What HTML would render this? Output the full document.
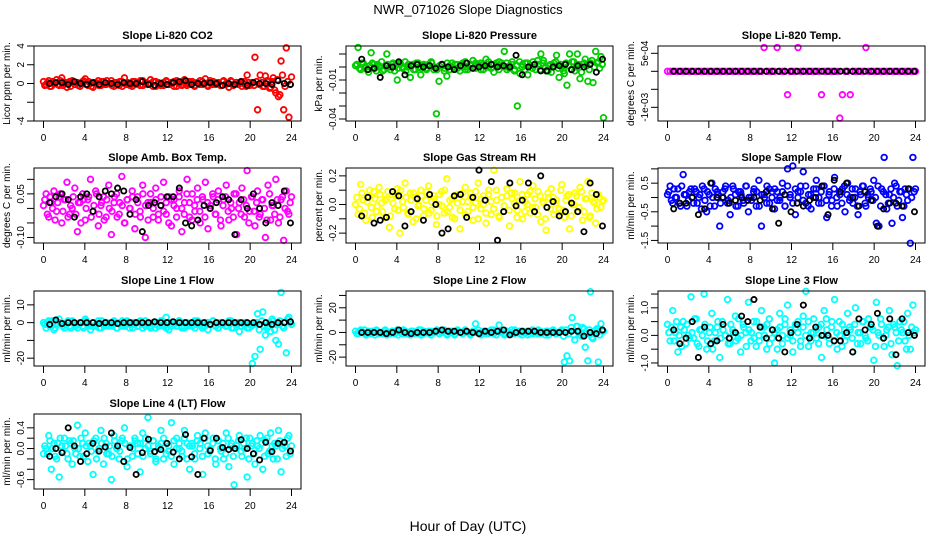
<!DOCTYPE html>
<html><head><meta charset="utf-8"><style>
html,body{margin:0;padding:0;background:#fff}
svg{display:block;font-family:"Liberation Sans",Arial,sans-serif}
</style></head><body>
<svg id="chart" width="936" height="540" viewBox="0 0 936 540" xmlns="http://www.w3.org/2000/svg">
<text x="468" y="14" text-anchor="middle" font-size="13">NWR_071026  Slope Diagnostics</text>
<text x="468" y="531" text-anchor="middle" font-size="14">Hour of Day (UTC)</text>
</svg>
<script>
const xTicks = [0,4,8,12,16,20,24];
const co2Vals = [.2,-.1,.3,-.3,.1,.4,-.2,.6,.0,-.4,.2,.3,-.1,.1,-.3,.2,.5,-.2,.0,-.4,.1,.3,-.2,.2,-.1,.0,.3,-.3,.1,-.2,.2,.6,-.1,.0,-.3,.2,.1,-.2,.3,.0,-.1,.4,-.3,.2,.0,-.2,.1,.3,-.1,.0,.2,-.3,.1,-.2,.4,.0,-.1,.2,-.2,.1,.3,-.1,.5,-.3,.0,.2,-.1,.1,-.2,.3,.0,-.4,.2,-.1,.1,.0,-.3,.2,.9,-.2,.1,2.8,-2.8,.9,-.3,.8,.2,-.4,.6,-1.0,-1.4,2.4,-2.8,3.8,-3.6,.7];
const co2Vals2 = [-.2,.1,-.3,.2,.0,-.1,.3,-.2,.1,.0,-.3,.2,.1,-.2,.0,.3,-.1,.2,-.3,.1,.0,-.2,.2,-.1,.3,.0,-.2,.1,-.1,.2,-.3,.0,.1,-.2,.2,-.1,.0,.3,-.2,.1,-.1,.0,.2,-.3,.1,.0,-.2,.2,-.1,.1,-.3,.3,.0,-.1,.1,-.2,.2,.0,-.3,.1,-.1,.2,.0,-.2,.3,-.1,.1,.0,-.2,.2,-.1,.0,.3,-.2,.1,-.1,.2,.0,-.3,.1,.0,-.2,.2,-.1,.1,-.3,.3,-.5,.2,-.7,.4,-1.2,.9,-.3,.2,-.1];
const co2Black = [.0,.1,.1,-.1,.2,.0,-.1,.1,-.1,.1,.0,-.1,.1,.0,.0,.2,-.1,-.2,.0,-.1,.1,.2,.3,-.1,.0,.0,.1,.0,-.2,.0,-.1,.2,-.2,.1,.0,.0,-.1,.3,.0,-.1];
const presVals = [.001,.015,-.002,.003,.000,-.004,.011,.002,-.003,.001,.004,-.002,.010,.000,.002,-.003,-.010,.003,-.001,.004,.000,-.008,.002,-.002,.003,-.006,.001,-.001,.002,.004,-.002,-.036,-.011,.002,-.003,-.007,.001,.003,-.001,.002,-.003,.000,.004,-.002,.001,.005,-.001,.002,.003,-.002,.006,.000,.002,-.004,.001,.004,.003,.012,-.002,.001,.004,-.002,-.030,-.005,.002,.003,-.006,.001,.004,-.002,.002,.010,.005,-.003,.001,-.004,.003,.009,-.008,.000,-.005,-.014,.010,.004,-.003,.010,-.009,.002,.006,-.011,.003,-.012,.012,.004,.008,-.039];
const presVals2 = [.002,-.001,.003,.000,-.002,.001,.003,-.001,.002,.000,-.003,.001,.002,-.002,.003,.001,-.001,.002,.000,-.003,.002,.001,-.002,.003,.000,-.001,.002,-.002,.001,.003,.000,-.002,.001,.002,-.001,.003,-.002,.000,.002,-.001,.001,.003,-.002,.000,.002,-.001,.003,.001,-.002,.002,.000,.004,-.001,.002,.003,-.002,.001,.000,.003,-.001,.002,-.003,.001,.004,.000,-.002,.003,.001,-.001,.002,.005,-.002,.003,.000,-.003,.002,.001,.004,-.001,.002,-.003,.003,.001,-.002,.004,.000,.002,-.004,.003,.001,-.002,.005,.000,.003,-.001,.002];
const presBlack = [.006,-.002,-.001,-.008,.001,.000,.004,-.006,.001,.002,.000,.001,-.001,.002,.000,-.002,.001,.003,-.001,.000,.001,.002,.000,.001,.000,.009,-.006,.000,.002,-.003,-.003,.000,.001,.002,-.002,.001,.000,.002,-.004,.006];
const tempVals = [0,0,0,0,0,0,0,0,0,0,0,0,0,0,0,0,0,0,0,0,0,0,0,0,0,0,0,0,0,0,0,0,0,0,0,0,0,6.6e-4,0,0,0,0,6.6e-4,0,0,0,-6.5e-4,0,0,0,6.6e-4,0,0,0,0,0,0,0,0,-6.5e-4,0,0,0,0,0,0,-1.3e-3,-6.5e-4,0,0,-6.5e-4,0,0,0,0,0,6.6e-4,0,0,0,0,0,0,0,0,0,0,0,0,0,0,0,0,0,0,0];
const tempVals2 = [];
const tempBlack = [0,0,0,0,0,0,0,0,0,0,0,0,0,0,0,0,0,0,0,0,0,0,0,0,0,0,0,0,0,0,0,0,0,0,0,0,0,0,0,0];
const ambVals = [.01,.05,-.03,.02,.06,-.01,.04,-.05,.03,.09,-.02,.00,.07,-.08,.02,.05,-.04,.03,.10,-.01,.06,-.06,.01,.04,-.03,.08,-.09,.02,.05,-.02,.11,-.05,.03,.00,.06,-.07,.04,-.01,.08,-.10,.02,.05,-.03,.07,-.04,.01,.09,-.02,.04,-.06,.03,.00,.06,-.08,.02,.10,-.03,.05,-.01,.07,-.05,.03,.09,-.07,.01,.04,-.02,.06,-.06,.03,.08,-.04,.00,.05,-.09,.02,.07,-.03,.13,-.01,.04,-.06,.06,-.02,.03,-.10,.08,-.04,.01,.10,-.05,.03,-.11,.06,-.02,.04];
const ambVals2 = [.03,-.02,.04,.00,-.04,.02,.05,-.01,.03,-.03,.01,.04,-.02,.02,-.05,.03,.00,.04,-.03,.01,.05,-.02,.02,-.04,.03,.00,-.01,.04,-.03,.02,.01,-.05,.03,.00,.04,-.02,.02,-.03,.05,.01,-.04,.02,.00,.03,-.02,.04,-.01,.02,-.05,.03,.01,-.03,.04,.00,-.02,.05,.02,-.04,.01,.03,-.01,.04,-.03,.02,.00,.05,-.02,.03,-.04,.01,.04,-.01,.02,-.03,.05,.00,-.02,.03,.01,-.05,.04,-.01,.02,-.03,.03,.00,-.04,.05,.01,-.02,.03,-.03,.04,.00,-.01,.02];
const ambBlack = [.02,.04,.05,.03,-.03,.04,.05,-.01,.04,.06,.05,.07,.06,-.02,.03,-.08,.01,.02,.01,.04,.04,.07,-.05,-.06,-.04,.01,.00,.02,.04,.03,-.09,.03,.00,.05,.00,-.05,.02,.01,.06,-.05];
const rhVals = [.0,-.07,.14,.03,-.11,.06,-.02,.09,-.05,.12,.01,-.09,.04,-.16,.07,-.03,.11,-.20,.02,.15,-.06,.08,-.12,.05,-.01,.10,-.08,.03,.13,-.04,.06,-.14,.00,.09,-.06,.18,-.02,.04,-.10,.07,-.17,.02,.12,-.05,.08,-.11,.01,.15,-.03,.06,-.13,.10,-.07,.24,.03,-.09,.05,-.01,.11,-.15,.04,.08,-.04,.16,-.10,.02,.07,-.06,.13,-.02,.09,-.12,.01,-.18,.05,.11,-.07,.03,-.03,.14,-.09,.06,-.17,.00,.08,-.05,.12,-.11,.04,.16,-.08,.02,-.13,.07,-.02,.03];
const rhVals2 = [.05,-.03,.08,-.06,.02,.10,-.09,.04,-.01,.07,-.05,.03,.09,-.08,.01,.06,-.04,.10,-.02,.05,-.07,.03,.08,-.10,.00,.06,-.03,.09,-.06,.02,.04,-.08,.07,-.01,.10,-.05,.03,-.09,.06,.01,-.04,.08,-.07,.02,.05,-.02,.09,-.10,.04,.00,-.06,.07,.02,-.03,.10,-.08,.05,-.01,.06,-.04,.08,.01,-.09,.03,.07,-.05,.00,.09,-.02,.04,-.07,.06,.02,-.10,.08,-.03,.05,.01,-.06,.10,-.04,.03,.07,-.08,.00,.06,-.02,.09,-.05,.04,-.09,.08,.01,-.03,.05,.02];
const rhBlack = [-.08,.05,-.13,-.11,-.09,.09,.06,-.15,-.05,.04,-.11,.07,.00,-.20,-.17,.06,.07,-.09,.05,.24,.03,.16,-.25,-.05,.15,-.01,.03,.15,-.05,.20,-.02,.02,-.08,-.05,.01,-.05,-.19,.15,.07,-.15];
const flowVals = [.1,.4,-.2,.0,.3,-.3,.8,.1,-.1,.3,-.2,.2,.0,-.4,.3,-.5,.1,.5,-.3,.2,-1.0,.0,.3,-.2,-.6,.4,.1,-.3,.2,-.1,.4,-.5,.0,.2,-.3,.6,-1.0,.1,-.2,.3,.0,-.4,.2,-.1,.5,-.3,1.0,.0,1.1,-.6,.2,.4,.9,-.2,.1,-.4,.3,.6,.0,-.2,.4,-.7,.2,-.1,.7,-.3,.1,.3,-.5,.5,.0,-.2,.3,-.6,.1,.4,-.3,.0,.2,.6,-.9,-1.0,.3,1.4,-.4,.1,-.9,.5,-.3,.2,-.7,.3,-.1,-1.6,1.4,.3];
const flowVals2 = [.2,-.1,.3,.0,-.2,.4,.1,-.3,.2,.0,.3,-.2,.1,.4,-.1,.2,-.3,.0,.3,.1,-.2,.2,.4,-.1,.0,.3,-.3,.2,.1,-.2,.4,.0,-.1,.3,.2,-.3,.1,.0,.4,-.2,.2,.3,-.1,.0,.2,-.3,.4,.1,-.2,.3,.0,.2,-.1,.4,-.3,.1,.0,.3,-.2,.2,.4,-.1,.1,-.3,.3,.0,.2,-.2,.4,.1,-.1,.3,.0,-.3,.2,.4,-.2,.1,.3,-.1,.0,.4,-.3,.2,.1,-.2,.3,.0,.4,-.1,.2,-.3,.1,.3,.0,.2];
const flowBlack = [-.4,-.2,-.2,.0,-.6,-.4,.5,.0,.0,-.2,-.1,.0,-.1,.0,-.1,.2,-.4,-.9,.1,-.5,-.2,-.3,-.1,.0,.4,-.6,.6,.2,.5,.0,-.3,.2,-.1,-1.0,-.4,-.2,-.2,-.3,.3,-.5];
const line1Vals = [0,-3,1,-2,-4,0,2,-1,-3,0,-2,1,-1,-3,0,-2,2,-1,-4,0,-2,1,-3,-1,0,-2,-1,1,-3,0,-2,-1,1,-3,0,-1,-2,0,-3,1,-1,-2,0,-3,-1,1,-2,3,-4,0,-1,-2,1,-3,0,-2,-1,0,-3,1,-1,-2,0,-4,-1,1,-2,-3,0,-1,-2,1,-3,0,-1,-5,-2,0,-3,-1,-23,-19,5,-15,6,-7,-2,-5,1,-10,-12,17,-3,-17,3,-1];
const line1Vals2 = [-1,0,-2,1,-3,-1,0,-2,-1,1,-3,0,-2,-1,0,-3,1,-1,-2,0,-1,-3,1,-2,0,-1,-2,0,-3,-1,1,-2,0,-1,-3,0,-2,1,-1,-2,0,-3,-1,0,-2,1,-1,-3,0,-2,-1,0,1,-2,-3,0,-1,-2,1,-1,0,-3,-2,0,-1,1,-2,-3,0,-1,-2,0,1,-3,-1,0,-2,-1,0,-3,-2,-1,0,-4,1,-2,-3,0,2,-4,-1,1,-2,0,2,0];
const line1Black = [-1,1.5,-.5,0,0,0,0,0,-.5,0,0,-.5,0,0,0,0,0,.5,0,0,.5,0,0,0,0,0,-1,0,0,0,0,0,0,0,-1,0,-1,0,0,.5];
const line2Vals = [1,-1,2,0,-2,1,-1,0,2,-1,0,1,-2,0,1,-1,2,0,-1,1,0,-2,1,0,-1,2,-1,0,1,-2,0,1,-1,0,2,-1,1,0,-2,1,0,-1,2,0,-1,1,7,0,-2,1,-1,0,2,-1,1,6,0,-2,1,0,-1,2,0,-1,1,0,-2,1,-1,0,2,-1,0,1,-2,0,1,-1,0,2,-24,-19,-23,12,-6,5,-2,4,-12,-23,33,-5,2,-24,7,1];
const line2Vals2 = [-1,1,0,2,-1,0,1,-2,1,0,-1,2,0,-1,1,0,-2,1,2,-1,0,1,-1,0,2,-2,1,0,-1,1,0,2,-1,0,1,-2,0,1,-1,2,0,-1,1,0,-2,1,0,2,-1,0,1,-1,0,2,-2,1,0,-1,1,0,2,-1,0,1,-2,0,1,-1,2,0,-1,1,0,-2,1,0,2,-1,0,1,-3,2,-1,4,-2,5,0,-3,3,-1,2,-4,1,3,-2,1];
const line2Black = [0,0,0,0,-1,0,2,0,-1,0,0,0,1,2,1,1,0,1,0,-1,1,0,1,2,-2,0,1,1,1,0,0,0,0,0,1,1,-3,0,-1,2];
const line3Vals = [.4,-.2,.9,.1,-.6,.3,.5,-.3,.0,1.4,-.1,.6,-.4,.2,1.5,-.5,.1,.8,-.2,.3,-.8,.5,.0,1.3,-.3,.2,.7,-.1,-.6,.4,.1,1.2,-.2,.5,-.4,.0,.9,.3,-.5,.6,-.1,-1.0,.2,.8,-.3,.4,1.1,.0,-.6,.3,.5,-.2,.7,1.6,-.4,.1,.6,-.1,.3,-.8,.9,.2,-.3,.5,1.3,-.5,.0,.4,-.2,.8,.2,-.6,1.0,.1,-.3,.5,-.1,.6,.3,-.9,1.2,.0,.4,-.4,.2,.9,-.7,.3,-1.1,.5,.1,-.2,.8,-.5,1.1,.2];
const line3Vals2 = [.1,.3,-.2,.5,.0,-.4,.2,.4,-.1,.1,.6,-.3,.2,.0,.4,-.2,.3,-.5,.1,.5,-.1,.2,.0,-.3,.4,.1,-.2,.6,.0,.3,-.4,.2,.1,-.1,.5,-.2,.3,.0,.4,-.3,.2,.1,-.5,.3,.0,.6,-.1,.2,-.2,.4,.1,-.4,.3,.0,.5,-.2,.1,.2,-.3,.4,.0,.6,-.1,.3,-.2,.1,.5,-.4,.2,.0,.3,-.1,.4,-.3,.1,.5,.0,-.2,.3,.2,-.4,.1,.6,-.1,.0,.3,-.3,.4,.1,-.2,.2,.5,-.5,.0,.3,.1];
const line3Black = [.2,-.3,-.1,.5,-.8,.3,-.3,-.2,.4,-.1,.1,.7,.5,1.3,.3,-.1,.2,-.1,-.6,.1,.4,1.1,-.1,.3,.0,.0,-.2,-.2,.1,-.6,.6,.2,.4,.8,-.1,.6,-.7,.6,.1,.0];
const line4Vals = [-.1,.0,.25,-.4,.1,-.2,-.55,.05,.2,-.1,.15,-.3,.0,.45,-.15,.1,.3,-.25,.05,-.5,.2,-.05,.35,-.3,.1,-.1,-.6,.25,.0,-.2,.15,.4,-.35,.05,-.15,.2,.1,-.45,.3,.0,.6,-.1,.15,-.25,.05,.35,-.2,.1,-.05,.5,-.3,.2,.0,-.15,.35,.1,-.4,.05,-.2,.25,.1,-.5,.3,-.1,.0,.2,-.3,.15,-.05,-.2,.3,-.35,.1,-.7,.05,.25,-.15,.0,-.55,.2,.1,-.3,.05,.25,-.4,.15,-.1,.3,-.2,.05,.35,-.45,.1,-.15,.25,.05];
const line4Vals2 = [.05,-.1,.15,.0,-.15,.1,.2,-.05,.05,-.2,.1,.15,-.1,.0,.2,-.15,.05,.1,-.05,.15,-.2,.0,.1,.2,-.1,.05,-.15,.15,.0,-.05,.2,.1,-.2,.05,.0,.15,-.1,.1,-.15,.2,.05,-.05,.15,-.2,.0,.1,.2,-.1,.05,-.15,.15,.0,.1,-.05,.2,-.2,.05,.1,-.1,.15,.0,-.15,.2,.05,-.05,.1,-.2,.15,.0,.1,-.1,.2,.05,-.15,.0,.15,-.05,.1,.2,-.2,.05,-.1,.15,.0,.1,-.15,.2,-.05,.05,.1,-.2,.15,.0,.05,.2,-.1];
const line4Black = [-.15,.0,-.08,.4,.05,-.25,-.1,.1,-.05,.03,.3,.05,-.25,.02,-.5,-.08,.18,-.06,-.02,.1,-.07,-.2,.27,-.16,-.5,.2,-.04,.2,.02,-.02,.0,.17,.0,-.1,-.22,.12,-.06,.1,.12,-.05];

const NS = "http://www.w3.org/2000/svg";
const svg = document.getElementById('chart');
function mk(tag, attrs, parent){const e=document.createElementNS(NS,tag);for(const k in attrs)e.setAttribute(k,attrs[k]);(parent||svg).appendChild(e);return e;}

const panels = [
 {id:'co2',title:'Slope Li-820 CO2',ylab:'Licor ppm per min.',col:0,row:0,ylim:[-4,4],ticks:[-4,-2,0,2,4],labs:['-4','','0','2','4'],color:'#ff0000',vals:co2Vals,vals2:co2Vals2,blk:co2Black},
 {id:'pressure',title:'Slope Li-820 Pressure',ylab:'kPa per min.',col:1,row:0,ylim:[-0.04154,0.01615],ticks:[-0.04,-0.03,-0.02,-0.01,0,0.01],labs:['-0.04','','','-0.01','',''],color:'#00cc00',vals:presVals,vals2:presVals2,blk:presBlack},
 {id:'li820-temp',title:'Slope Li-820 Temp.',ylab:'degrees C per min.',col:2,row:0,ylim:[-1.38e-3,7.03e-4],ticks:[-1e-3,-5e-4,0,5e-4],labs:['-1e-03','','','5e-04'],color:'#ff00ff',vals:tempVals,vals2:tempVals2,blk:tempBlack},
 {id:'amb-temp',title:'Slope Amb. Box Temp.',ylab:'degrees C per min.',col:0,row:1,ylim:[-0.119,0.139],ticks:[-0.1,-0.05,0,0.05,0.1],labs:['-0.10','','','0.05',''],color:'#ff00ff',vals:ambVals,vals2:ambVals2,blk:ambBlack},
 {id:'gas-rh',title:'Slope Gas Stream RH',ylab:'percent per min.',col:1,row:1,ylim:[-0.269,0.255],ticks:[-0.2,-0.1,0,0.1,0.2],labs:['-0.2','','0.0','','0.2'],color:'#ffff00',vals:rhVals,vals2:rhVals2,blk:rhBlack},
 {id:'sample-flow',title:'Slope Sample Flow',ylab:'ml/min per min.',col:2,row:1,ylim:[-1.59,1.03],ticks:[-1.5,-1,-0.5,0,0.5,1],labs:['-1.5','','-0.5','','0.5',''],color:'#0000ff',vals:flowVals,vals2:flowVals2,blk:flowBlack},
 {id:'line1',title:'Slope Line 1 Flow',ylab:'ml/min per min.',col:0,row:2,ylim:[-24.4,17.8],ticks:[-20,-10,0,10],labs:['-20','','0','10'],color:'#00ffff',vals:line1Vals,vals2:line1Vals2,blk:line1Black},
 {id:'line2',title:'Slope Line 2 Flow',ylab:'ml/min per min.',col:1,row:2,ylim:[-27.2,33.6],ticks:[-20,-10,0,10,20,30],labs:['-20','','0','','20',''],color:'#00ffff',vals:line2Vals,vals2:line2Vals2,blk:line2Black},
 {id:'line3',title:'Slope Line 3 Flow',ylab:'ml/min per min.',col:2,row:2,ylim:[-1.11,1.61],ticks:[-1,-0.5,0,0.5,1,1.5],labs:['-1.0','','0.0','','1.0',''],color:'#00ffff',vals:line3Vals,vals2:line3Vals2,blk:line3Black},
 {id:'line4',title:'Slope Line 4 (LT) Flow',ylab:'ml/min per min.',col:0,row:3,ylim:[-0.781,0.667],ticks:[-0.6,-0.4,-0.2,0,0.2,0.4],labs:['-0.6','','','0.0','','0.4'],color:'#00ffff',vals:line4Vals,vals2:line4Vals2,blk:line4Black}
];
const colLeft=[34,346,658], rowTop=[46,168,291,414], W=267, H=75;

panels.forEach(p=>{
  const L=colLeft[p.col], T=rowTop[p.row], B=T+H, R=L+W;
  const xs=h=>L+9.5+h*(248/24);
  const ys=v=>B-(v-p.ylim[0])/(p.ylim[1]-p.ylim[0])*H;
  const g=mk('g',{});
  
  
  const t=mk('text',{x:(L+R)/2,y:T-7,'text-anchor':'middle','font-size':11,'font-weight':'bold'},g);
  t.textContent=p.title;
  
  
  const yl=mk('text',{x:0,y:0,transform:`translate(${L-24},${(T+B)/2}) rotate(-90)`,'text-anchor':'middle','font-size':10},g);
  yl.textContent=p.ylab;
  
  
  const pg=mk('g',{fill:'none',stroke:p.color,'stroke-width':1.8},g);
  
  
  const n=p.vals.length;
  p.vals.forEach((v,i)=>{const c=mk('circle',{cx:xs(i*24/(n-1)),cy:ys(v),r:2.8},pg);
    
    });
  const n2=p.vals2.length;
  p.vals2.forEach((v,i)=>{const c=mk('circle',{cx:xs((i+0.5)*24/n2),cy:ys(v),r:2.8},pg);
    
    });
  const bg=mk('g',{fill:'none',stroke:'#000','stroke-width':1.8},g);
  
  
  const m=p.blk.length;
  p.blk.forEach((v,i)=>{const c=mk('circle',{cx:xs(0.6+i*23.3/(m-1)),cy:ys(v),r:2.6},bg);
    
    });
  const box=mk('rect',{x:L,y:T,width:W,height:H,fill:'none',stroke:'#000','stroke-width':1},g);
  
  
  xTicks.forEach(h=>{
    mk('line',{x1:xs(h),x2:xs(h),y1:B,y2:B+7,stroke:'#000'},g);
    const tl=mk('text',{x:xs(h),y:B+20,'text-anchor':'middle','font-size':10},g);
    tl.textContent=h;
    
    
  });
  p.ticks.forEach((v,i)=>{
    const y=ys(v);
    mk('line',{x1:L-7,x2:L,y1:y,y2:y,stroke:'#000'},g);
    if(p.labs[i]){
      const tl=mk('text',{x:0,y:0,transform:`translate(${L-10},${y}) rotate(-90)`,'text-anchor':'middle','font-size':10},g);
      tl.textContent=p.labs[i];
      
      
    }
  });
});
</script>
</body></html>
